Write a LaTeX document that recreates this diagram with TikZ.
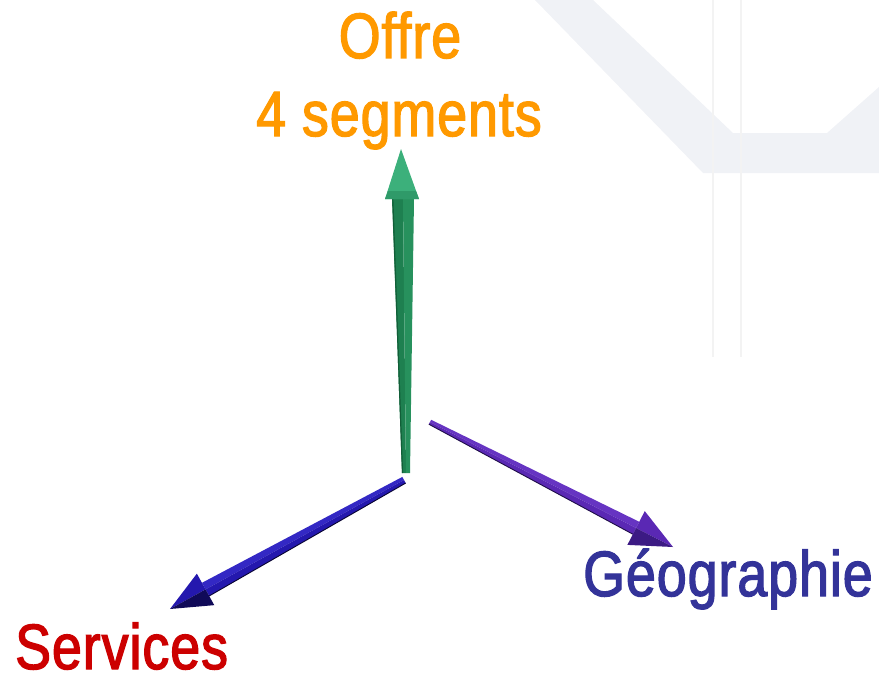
\documentclass[tikz,border=0pt]{standalone}
\usepackage{fontspec}
\newfontfamily\lbf{Liberation Sans}[FakeStretch=0.84,FakeBold=2,LetterSpace=1.5]
\usetikzlibrary{calc}
\definecolor{offrec}{HTML}{FF9900}
\definecolor{geoc}{HTML}{333399}
\definecolor{servc}{HTML}{CC0000}
\definecolor{wmc}{HTML}{F0F2F6}
\definecolor{wmline}{HTML}{F3F3F3}
\definecolor{gdark}{HTML}{125E38}
\definecolor{gmid}{HTML}{1E8050}
\definecolor{glight}{HTML}{27915D}
\definecolor{ghead}{HTML}{3CB07B}
\definecolor{gheadd}{HTML}{2F9A69}
\definecolor{pmain}{HTML}{5A28B4}
\definecolor{plight}{HTML}{6634C2}
\definecolor{pdark}{HTML}{3C1A84}
\definecolor{pedge}{HTML}{1E0C48}
\definecolor{bmain}{HTML}{2418AE}
\definecolor{blight}{HTML}{3328C4}
\definecolor{bdark}{HTML}{100A58}
\definecolor{bedge}{HTML}{080430}
\begin{document}
\begin{tikzpicture}[x=1pt,y=-1pt,
  lbl/.style={font=\lbf\fontsize{64}{77}\selectfont, inner sep=0pt},
  wmfill/.style={fill=wmc, draw=none},
  wmrule/.style={draw=wmline, line width=2.5pt}]
\useasboundingbox (0,0) rectangle (879,677);
% faint background watermark
\fill[wmfill] (535,0) -- (593,0) -- (733,133) -- (879,133) -- (879,173) -- (703,173) -- cycle;
\fill[wmfill] (827,133) -- (879,87) -- (879,133) -- cycle;
\draw[wmrule] (713,0) -- (713,357);
\draw[wmrule] (741,0) -- (741,357);

% labels
\node[lbl, anchor=base, text=offrec] (offre) at (400,58) {Offre};
\node[lbl, anchor=base, text=offrec] (seg) at (399,136) {4 segments};
\node[lbl, anchor=base west, text=geoc] (geo) at (583,596) {Géographie};
\node[lbl, anchor=base west, text=servc] (serv) at (15,669) {Services};

% green axis (up)
\coordinate (gO) at (406,473);
\coordinate (gB) at (403,199);
\coordinate (gT) at (401,149);
\fill[gmid] (402,473) -- (406,473) -- (gB) -- (392,199) -- cycle;
\fill[glight] (406,473) -- (410,473) -- (414,199) -- (gB) -- cycle;
\draw[gdark, line width=1.2pt] (402.5,473) -- (392.8,199);
\fill[ghead] (385,199) -- (419,199) -- (gT) -- cycle;
\fill[gheadd] (385,199) -- (419,199) -- (416,191) -- (388,191) -- cycle;

% purple axis (Geographie)
\coordinate (pO) at (430,422);
\coordinate (pT) at (673,547);
\coordinate (pB) at ($(pO)!0.848!(pT)$);
\fill[plight] ($(pO)!2.5pt!90:(pT)$) -- ($(pB)!7pt!90:(pT)$) -- (pB) -- (pO) -- cycle;
\fill[pmain] (pO) -- (pB) -- ($(pB)!7pt!-90:(pT)$) -- ($(pO)!2.5pt!-90:(pT)$) -- cycle;
\draw[pedge, line width=0.9pt] ($(pO)!2.5pt!-90:(pT)$) -- ($(pB)!7pt!-90:(pT)$);
\fill[pmain] ($(pB)!19pt!90:(pT)$) -- (pT) -- (pB) -- cycle;
\fill[pdark] (pB) -- (pT) -- ($(pB)!19pt!-90:(pT)$) -- cycle;

% blue axis (Services)
\coordinate (bO) at (404,480);
\coordinate (bT) at (170,609);
\coordinate (bB) at ($(bO)!0.848!(bT)$);
\fill[blight] ($(bO)!3.5pt!-90:(bT)$) -- ($(bB)!7.5pt!-90:(bT)$) -- (bB) -- (bO) -- cycle;
\fill[bmain] (bO) -- (bB) -- ($(bB)!7.5pt!90:(bT)$) -- ($(bO)!3.5pt!90:(bT)$) -- cycle;
\draw[bedge, line width=0.9pt] ($(bO)!3.5pt!90:(bT)$) -- ($(bB)!7.5pt!90:(bT)$);
\fill[bmain] ($(bB)!18pt!-90:(bT)$) -- (bT) -- (bB) -- cycle;
\fill[bdark] (bB) -- (bT) -- ($(bB)!18pt!90:(bT)$) -- cycle;
\end{tikzpicture}
\end{document}
